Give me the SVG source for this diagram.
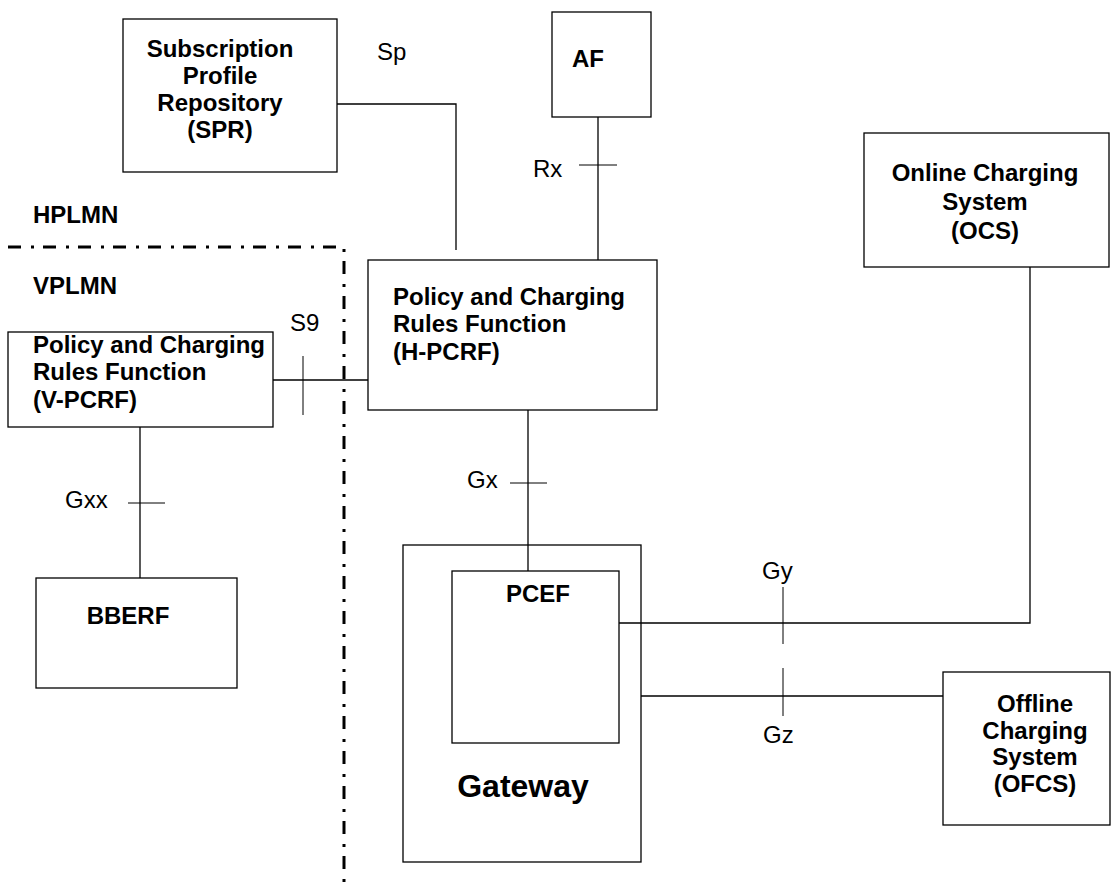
<svg xmlns="http://www.w3.org/2000/svg" width="1112" height="885" viewBox="0 0 1112 885">
<style>
.box{fill:none;stroke:#000;stroke-width:1.3}
.ln{fill:none;stroke:#000;stroke-width:1.3}
.tk{fill:none;stroke:#000;stroke-width:1}
.b{font-family:"Liberation Sans",Arial,sans-serif;font-weight:bold;font-size:24px;fill:#000}
.n{font-family:"Liberation Sans",Arial,sans-serif;font-size:24px;fill:#000}
.c{text-anchor:middle}
.dd{fill:none;stroke:#000;stroke-width:3;stroke-dasharray:13 10 3 9}
</style>
<rect width="1112" height="885" fill="#fff"/>
<g id="boundary">
<path class="dd" d="M8 247 H344 V885"/>
<text class="b" x="33" y="223">HPLMN</text>
<text class="b" x="33" y="294">VPLMN</text>
</g>
<g id="connectors">
<path class="ln" d="M337 104 H456 V250"/>
<path class="ln" d="M598 117 V260"/>
<path class="ln" d="M273 380 H368"/>
<path class="ln" d="M528 410 V571"/>
<path class="ln" d="M140 427 V578"/>
<path class="ln" d="M619 623 H1030 V267"/>
<path class="ln" d="M641 696 H943"/>
<path class="tk" d="M579 165 H617"/>
<path class="tk" d="M303 356 V415"/>
<path class="tk" d="M510 483 H547"/>
<path class="tk" d="M128 503 H165"/>
<path class="tk" d="M783 587 V644"/>
<path class="tk" d="M783 668 V716"/>
<text class="n" x="377" y="60">Sp</text>
<text class="n" x="533" y="177">Rx</text>
<text class="n" x="290" y="331">S9</text>
<text class="n" x="467" y="488">Gx</text>
<text class="n" x="65" y="508">Gxx</text>
<text class="n" x="762" y="579">Gy</text>
<text class="n" x="763" y="743">Gz</text>
</g>
<g id="spr">
<rect class="box" x="123" y="19" width="214" height="153"/>
<text class="b c" x="220" y="57">Subscription</text>
<text class="b c" x="220" y="84">Profile</text>
<text class="b c" x="220" y="111">Repository</text>
<text class="b c" x="220" y="138">(SPR)</text>
</g>
<g id="af">
<rect class="box" x="552" y="12" width="99" height="105"/>
<text class="b" x="572" y="67">AF</text>
</g>
<g id="ocs">
<rect class="box" x="864" y="133" width="245" height="134"/>
<text class="b c" x="985" y="181">Online Charging</text>
<text class="b c" x="985" y="210">System</text>
<text class="b c" x="985" y="239">(OCS)</text>
</g>
<g id="hpcrf">
<rect class="box" x="368" y="260" width="289" height="150"/>
<text class="b" x="393" y="305">Policy and Charging</text>
<text class="b" x="393" y="332">Rules Function</text>
<text class="b" x="393" y="360">(H-PCRF)</text>
</g>
<g id="vpcrf">
<rect class="box" x="8" y="332" width="265" height="95"/>
<text class="b" x="33" y="353">Policy and Charging</text>
<text class="b" x="33" y="380">Rules Function</text>
<text class="b" x="33" y="408">(V-PCRF)</text>
</g>
<g id="bberf">
<rect class="box" x="36" y="578" width="201" height="110"/>
<text class="b c" x="128" y="624">BBERF</text>
</g>
<g id="gateway">
<rect class="box" x="403" y="545" width="238" height="317"/>
<text class="b c" x="523" y="797" style="font-size:32px">Gateway</text>
</g>
<g id="pcef">
<rect class="box" x="452" y="571" width="167" height="172"/>
<text class="b c" x="538" y="602">PCEF</text>
</g>
<g id="ofcs">
<rect class="box" x="943" y="672" width="167" height="153"/>
<text class="b c" x="1035" y="712">Offline</text>
<text class="b c" x="1035" y="739">Charging</text>
<text class="b c" x="1035" y="765">System</text>
<text class="b c" x="1035" y="792">(OFCS)</text>
</g>
</svg>
